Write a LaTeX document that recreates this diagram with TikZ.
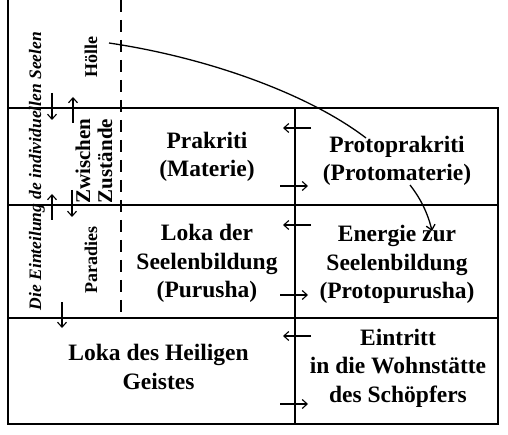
\documentclass[tikz,border=0pt]{standalone}
\usepackage{fontspec}
\setmainfont{Liberation Serif}
\usetikzlibrary{arrows.meta,positioning}

\begin{document}
\begin{tikzpicture}[x=1pt, y=-1pt,
                   frame/.style={line width=1.8pt},
                   lbl/.style={font=\fontsize{23.5}{28.5}\selectfont\bfseries, align=center},
                   side/.style={font=\fontsize{18}{22}\selectfont\bfseries, rotate=90, anchor=base},
                   arr/.style={-{Straight Barb[length=5pt,width=9pt]}, line width=1.1pt}]
  \useasboundingbox (0,0) rectangle (508,435);
  % frame and rows
  \draw[frame] (8,0) -- (8,424) -- (498,424) -- (498,108) -- (8,108);
  \draw[frame] (8,205) -- (498,205);
  \draw[frame] (8,318) -- (498,318);
  \draw[frame] (295,108) -- (295,424);
  \draw[line width=1.5pt, dash pattern=on 12pt off 8pt] (121,0) -- (121,318);
  % texts
  \node[lbl] (prakriti) at (207,157) {Prakriti\\(Materie)};
  \node[lbl] (protoprakriti) at (397,161) {Protoprakriti\\(Protomaterie)};
  \node[lbl] (seelenloka) at (207,263.5) {Loka der\\Seelenbildung\\(Purusha)};
  \node[lbl] (energie) at (397,264.5) {Energie zur\\Seelenbildung\\(Protopurusha)};
  \node[lbl] (geist) at (158.5,367) {Loka des Heiligen\\Geistes};
  \node[lbl] (eintritt) at (398,368) {Eintritt\\in die Wohnstätte\\des Schöpfers};
  \node[side] (hoelle) at (97,57.5) {Hölle};
  \node[side, font=\fontsize{21}{22}\selectfont\bfseries, anchor=center, align=center] (zwischen) at (94,161) {Zwischen\\Zustände};
  \node[side] (paradies) at (97,260) {Paradies};
  \node[side, font=\fontsize{17.5}{20}\selectfont\bfseries\itshape] (einteilung) at (41,171) {Die Einteilung de individuellen Seelen};
  % curved connectors
  \coordinate (hstart) at (109,43);
  \coordinate (pend) at (366,138);
  \coordinate (pmstart) at (410,185);
  \coordinate (enend) at (432,231);
  \draw[line width=1.3pt] (hstart) .. controls (210,58) and (310,95) .. (pend);
  \draw[arr, line width=1.3pt] (pmstart) .. controls (421,199) and (428,214) .. (enend);
  % arrows across the middle line
  \foreach \yl/\yr in {128/186, 225/295, 336/404} {
    \draw[arr] (311,\yl) -- (283,\yl);
    \draw[arr] (280,\yr) -- (308,\yr);
  }
  % arrows across the rows
  \draw[arr] (52,93) -- (52,120);
  \draw[arr] (73,123) -- (73,97);
  \draw[arr] (52,220) -- (52,194);
  \draw[arr] (72,190) -- (72,217);
  \draw[arr] (62,302) -- (62,328);
\end{tikzpicture}
\end{document}
